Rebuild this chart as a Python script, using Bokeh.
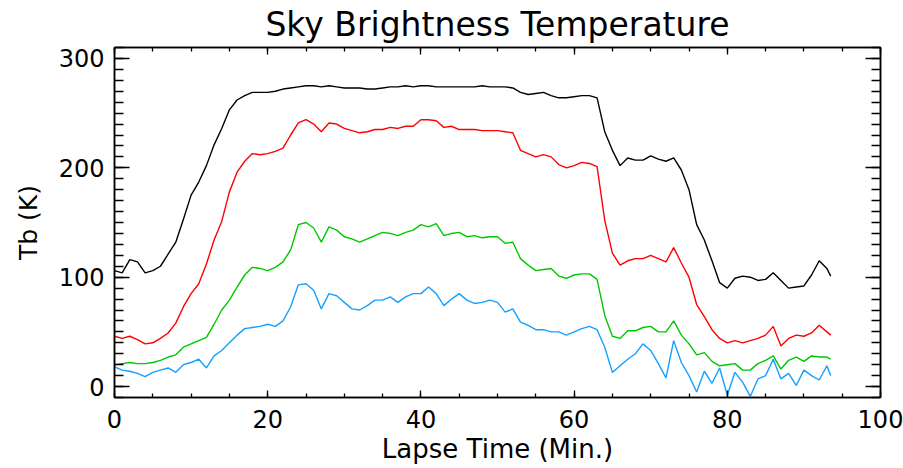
from bokeh.plotting import figure
from bokeh.models import Range1d, LinearAxis, FixedTicker, CustomLabelingPolicy
from bokeh.embed import file_html
from bokeh.resources import INLINE

# Lapse time (minutes)
time = list(range(94)) + [93.5]

tb_black = [106, 104, 116, 114, 104, 106, 110, 121, 132, 153, 175, 187, 202, 221, 236, 253, 262, 266, 269, 269,
            269, 270, 272, 273, 274, 275, 275, 274, 275, 274, 273, 273, 273, 272, 272, 273, 274, 274, 275, 274,
            275, 275, 274, 274, 274, 274, 274, 274, 275, 274, 274, 274, 273, 269, 267, 268, 269, 266, 264, 264,
            265, 266, 266, 264, 233, 216, 202, 209, 207, 207, 211, 208, 206, 209, 198, 180, 148, 134, 115, 95,
            90, 99, 101, 100, 97, 98, 104, 97, 90, 91, 92, 102, 115, 108, 101]

tb_red = [46, 44, 46, 43, 39, 40, 44, 49, 58, 73, 85, 94, 112, 134, 151, 178, 196, 206, 213, 212,
          213, 215, 218, 230, 241, 244, 240, 233, 241, 240, 236, 234, 232, 233, 235, 235, 237, 236, 238, 238,
          244, 244, 243, 237, 238, 235, 235, 235, 234, 234, 234, 233, 232, 216, 213, 210, 212, 210, 203, 200,
          202, 205, 204, 201, 152, 122, 111, 115, 117, 117, 120, 117, 114, 127, 113, 100, 75, 64, 52, 44,
          40, 42, 40, 42, 44, 47, 55, 37, 44, 47, 46, 49, 56, 50, 47]

tb_green = [20, 21, 22, 21, 21, 22, 24, 27, 29, 36, 39, 42, 45, 57, 70, 79, 91, 102, 109, 108,
            106, 109, 114, 125, 148, 150, 145, 132, 146, 143, 137, 135, 132, 135, 138, 141, 140, 138, 141, 143,
            148, 146, 149, 138, 140, 141, 137, 138, 136, 137, 137, 131, 132, 117, 111, 106, 107, 108, 101, 99,
            102, 103, 103, 98, 65, 46, 44, 51, 51, 54, 55, 50, 50, 60, 47, 39, 29, 31, 23, 19,
            20, 21, 15, 15, 21, 24, 28, 16, 24, 27, 23, 28, 27, 27, 25]

tb_blue = [18, 15, 14, 12, 9, 13, 15, 17, 13, 20, 22, 25, 17, 28, 33, 40, 47, 53, 54, 55,
           57, 55, 60, 73, 93, 94, 88, 71, 85, 83, 77, 71, 70, 74, 79, 79, 82, 77, 82, 85,
           85, 91, 85, 74, 80, 85, 79, 76, 77, 79, 77, 68, 71, 59, 56, 52, 52, 50, 50, 47,
           50, 53, 55, 52, 36, 13, 19, 25, 30, 39, 33, 21, 8, 42, 22, 10, -5, 14, 3, 17,
           -8, 13, 4, -9, 7, 10, 25, 7, 12, 1, 15, 10, 6, 19, 10]

series = [(tb_black, "#000000"), (tb_red, "#ff0000"), (tb_green, "#00c800"), (tb_blue, "#14a0ff")]

x_ticks = [0, 20, 40, 60, 80, 100]
y_ticks = [0, 100, 200, 300]

FONT = "DejaVu Sans"

p = figure(width=903, height=468, output_backend="svg", toolbar_location=None,
           x_range=Range1d(0, 100), y_range=Range1d(-10, 310),
           min_border_left=114, min_border_right=23, min_border_top=47, min_border_bottom=71,
           background_fill_color="white", border_fill_color="white")

p.title.text = "Sky Brightness Temperature"
p.title.align = "center"
p.title.text_font = FONT
p.title.text_font_size = "33px"
p.title.text_font_style = "normal"
p.title.text_color = "black"
p.title.offset = 0
p.title.standoff = 0

p.xgrid.visible = False
p.ygrid.visible = False
p.outline_line_color = "black"
p.outline_line_width = 1.5

for ys, col in series:
    p.line(time, ys, line_color=col, line_width=1.4)

xt = FixedTicker(ticks=x_ticks, minor_ticks=list(range(0, 101, 5)))
yt = FixedTicker(ticks=y_ticks, minor_ticks=list(range(-10, 311, 10)))

def style(ax, major_in, minor_in):
    ax.axis_line_color = "black"
    ax.axis_line_width = 1.5
    ax.major_tick_line_color = "black"
    ax.minor_tick_line_color = "black"
    ax.major_tick_line_width = 1.3
    ax.minor_tick_line_width = 1.3
    ax.major_tick_in = major_in
    ax.major_tick_out = 0
    ax.minor_tick_in = minor_in
    ax.minor_tick_out = 0
    ax.major_label_text_font = FONT
    ax.major_label_text_font_size = "24px"
    ax.major_label_text_color = "black"
    ax.axis_label_text_font = FONT
    ax.axis_label_text_font_size = "26px"
    ax.axis_label_text_font_style = "normal"
    ax.axis_label_text_color = "black"

HIDE_ALL = """
    for (const i of indices) { indices.unset(i) }
    return indices
"""

xa = p.xaxis[0]
xa.ticker = xt
style(xa, 7, 4)
xa.axis_label = "Lapse Time (Min.)"
xa.major_label_standoff = 12
xa.axis_label_standoff = 3

ya = p.yaxis[0]
ya.ticker = yt
style(ya, 15, 9)
ya.axis_label = "Tb (K)"
ya.axis_label_text_font_size = "25px"
ya.major_label_standoff = 10
ya.axis_label_standoff = 13

# mirrored tick axes (no labels)
top = LinearAxis(ticker=xt)
style(top, 7, 4)
top.major_label_text_font_size = "1px"
top.major_label_policy = CustomLabelingPolicy(code=HIDE_ALL)
top.major_label_standoff = 0
p.add_layout(top, "above")

right = LinearAxis(ticker=yt)
style(right, 15, 9)
right.major_label_text_font_size = "1px"
right.major_label_policy = CustomLabelingPolicy(code=HIDE_ALL)
right.major_label_standoff = 0
p.add_layout(right, "right")

open("out.html", "w").write(file_html(p, INLINE))
